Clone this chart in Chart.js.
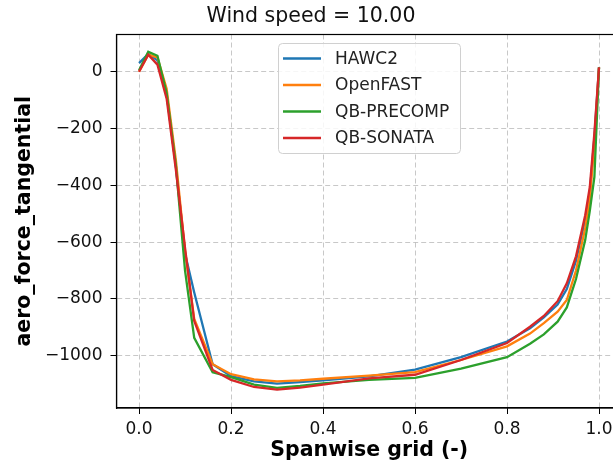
<!DOCTYPE html>
<html>
<head>
<meta charset="utf-8">
<script src="https://cdn.jsdelivr.net/npm/chart.js@4"></script>
<style>
  html, body { margin: 0; padding: 0; background: #fff; overflow: hidden; }
  #wrap { width: 640px; height: 466px; }
</style>
</head>
<body>
<div id="wrap"><canvas id="bladeChart"></canvas></div>
<script>
// spanwise positions and tangential aero force
const spanGrid  = [0, 0.02, 0.04, 0.06, 0.08, 0.10, 0.12, 0.16, 0.20, 0.25, 0.30, 0.35, 0.40, 0.50, 0.60, 0.70, 0.80, 0.85, 0.88, 0.91, 0.93, 0.95, 0.97, 0.98, 0.99, 1.00];
const hawc2     = [30, 62, 40, -80, -330, -640, -777, -1030, -1072, -1090, -1098, -1093, -1087, -1073, -1049, -1005, -950, -903, -865, -820, -765, -665, -520, -425, -230, 15];
const openfast  = [0, 60, 50, -60, -310, -630, -870, -1030, -1065, -1083, -1090, -1087, -1081, -1070, -1058, -1015, -967, -922, -885, -845, -804, -700, -550, -450, -250, 15];
const qbPrecomp = [5, 70, 56, -75, -330, -700, -937, -1058, -1075, -1102, -1113, -1106, -1097, -1085, -1078, -1045, -1005, -958, -925, -880, -830, -730, -593, -490, -370, 15];
const qbSonata  = [0, 60, 25, -95, -345, -620, -878, -1050, -1085, -1110, -1119, -1112, -1102, -1080, -1067, -1015, -955, -898, -860, -808, -745, -650, -505, -406, -215, 15];

const seriesNames = ['HAWC2', 'OpenFAST', 'QB-PRECOMP', 'QB-SONATA'];
const seriesColors = ['#1f77b4', '#ff7f0e', '#2ca02c', '#d62728'];
const xTicks = [0, 0.2, 0.4, 0.6, 0.8, 1.0];
const yTicks = [-1000, -800, -600, -400, -200, 0];

const font = "'DejaVu Sans', sans-serif";

function toPoints(ys) {
    return spanGrid.map((x, i) => ({ x: x, y: ys[i] }));
}

// top/right spines + legend box inside the axes
const framePlugin = {
    id: 'frame',
    afterDraw(chart) {
        const ctx = chart.ctx;
        const a = chart.chartArea;
        ctx.save();
        ctx.strokeStyle = '#000';
        ctx.lineWidth = 1.2;
        ctx.strokeRect(a.left, a.top, a.right - a.left, a.bottom - a.top);

        // legend
        const lx = 278, ly = 43, lw = 182, lh = 110;
        ctx.beginPath();
        ctx.roundRect(lx + 0.5, ly + 0.5, lw, lh, 4);
        ctx.fillStyle = 'rgba(255,255,255,0.85)';
        ctx.fill();
        ctx.strokeStyle = '#d0d0d0';
        ctx.lineWidth = 1;
        ctx.stroke();
        ctx.font = '17px ' + font;
        ctx.textBaseline = 'middle';
        ctx.textAlign = 'left';
        seriesNames.forEach((name, i) => {
            const y = 58.5 + i * 26.5;
            ctx.beginPath();
            ctx.moveTo(283, y);
            ctx.lineTo(321, y);
            ctx.strokeStyle = seriesColors[i];
            ctx.lineWidth = 2.3;
            ctx.stroke();
            ctx.fillStyle = '#222';
            ctx.fillText(name, 335, y + 1);
        });
        ctx.restore();
    }
};

const allSeries = [hawc2, openfast, qbPrecomp, qbSonata];

const gridOpts = {
    color: 'rgba(176,176,176,0.7)',
    lineWidth: 1,
    tickLength: 6,
    tickColor: '#000',
    tickBorderDash: [],
    tickWidth: 1
};

new Chart(document.getElementById('bladeChart'), {
    type: 'line',
    data: {
        datasets: allSeries.map((ys, i) => ({
            label: seriesNames[i],
            data: toPoints(ys),
            borderColor: seriesColors[i],
            backgroundColor: seriesColors[i],
            borderWidth: 2.3,
            pointRadius: 0,
            tension: 0,
            fill: false,
            order: allSeries.length - i
        }))
    },
    options: {
        responsive: true,
        maintainAspectRatio: false,
        animation: false,
        layout: { padding: { left: 0, right: 18, top: 0, bottom: 0 } },
        plugins: {
            legend: { display: false },
            tooltip: { enabled: false },
            title: {
                display: true,
                text: 'Wind speed = 10.00',
                color: '#111',
                font: { family: font, size: 20.5, weight: 'normal' },
                padding: { top: 4.5, bottom: 5.4 }
            }
        },
        scales: {
            x: {
                type: 'linear',
                min: -0.049,
                max: 1.05,
                afterFit(s) { s.height = 58; },
                afterBuildTicks(s) { s.ticks = xTicks.map(v => ({ value: v })); },
                grid: gridOpts,
                border: { display: true, color: '#000', width: 1.2, dash: [5, 3] },
                ticks: {
                    color: '#111',
                    font: { family: font, size: 17 },
                    padding: 5,
                    maxRotation: 0,
                    callback: v => v.toFixed(1)
                },
                title: {
                    display: true,
                    text: 'Spanwise grid (-)',
                    color: '#000',
                    font: { family: font, size: 20.5, weight: 'bold' },
                    padding: { top: 0, bottom: 3 }
                }
            },
            y: {
                type: 'linear',
                min: -1184,
                max: 131,
                afterFit(s) { s.width = 116.5; },
                afterBuildTicks(s) { s.ticks = yTicks.map(v => ({ value: v })); },
                grid: gridOpts,
                border: { display: true, color: '#000', width: 1.2, dash: [5, 3] },
                ticks: {
                    color: '#111',
                    font: { family: font, size: 17 },
                    padding: 8,
                    callback: v => (v < 0 ? '\u2212' + Math.abs(v) : String(v))
                },
                title: {
                    display: true,
                    text: 'aero_force_tangential',
                    color: '#000',
                    font: { family: font, size: 20.5, weight: 'bold' },
                    padding: { top: 12, bottom: 0 }
                }
            }
        }
    },
    plugins: [framePlugin]
});
</script>
</body>
</html>
